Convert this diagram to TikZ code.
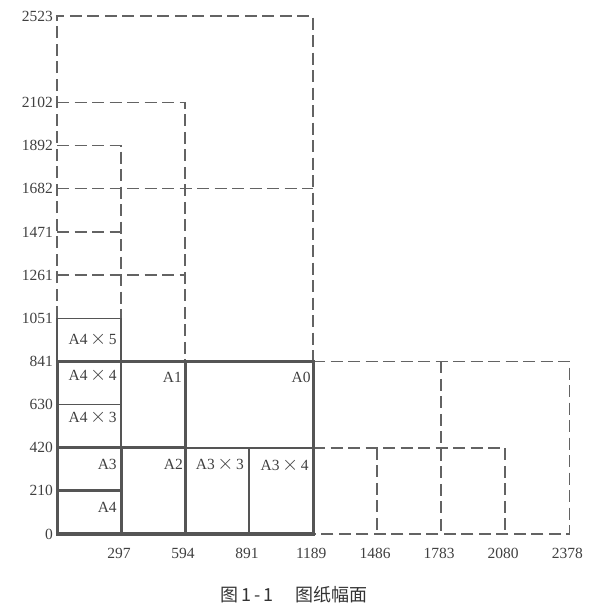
\documentclass[tikz,border=0pt]{standalone}
\usepackage{fontspec}
\setmainfont{Liberation Serif}
\newfontfamily\cjk{Noto Sans CJK SC}
\usepackage{tikz}

\definecolor{linegray}{HTML}{555555}
\definecolor{dashgray}{HTML}{636363}
\definecolor{textgray}{HTML}{404040}

\newcommand{\by}{\,{\fontsize{21pt}{21pt}\selectfont$\times$}\,}

\begin{document}
\begin{tikzpicture}[x=0.2155pt, y=0.2053pt,
  heavy/.style={line width=3pt, draw=linegray},
  light/.style={line width=1.2pt, draw=linegray},
  broken/.style={line width=1.5pt, draw=dashgray, dash pattern=on 12pt off 5.5pt},
  lbl/.style={inner sep=0pt, text=textgray, font=\fontsize{15.5pt}{17pt}\selectfont},
  ylab/.style={lbl, anchor=east, xshift=-4pt},
  xlab/.style={lbl, yshift=-19pt, xshift=-2pt},
  sheet/.style={lbl}]
\useasboundingbox (-57pt,-73pt) rectangle (543pt,534pt);

% dashed extensions
\draw[broken] (0,1051) -- (0,2523) -- (1189,2523) -- (1189,841);
\draw[broken] (0,2102) -- (594,2102) -- (594,841);
\draw[broken] (0,1892) -- (297,1892) -- (297,1051);
\draw[broken] (0,1682) -- (1189,1682);
\draw[broken] (0,1471) -- (297,1471);
\draw[broken] (0,1261) -- (594,1261);
\draw[broken] (1189,841) -- (2378,841) -- (2378,0) -- (1189,0);
\draw[broken] (1189,420) -- (2080,420) -- (2080,0);
\draw[broken] (1486,420) -- (1486,0);
\draw[broken] (1783,841) -- (1783,0);

% thin sheet borders
\draw[light] (0,841) -- (0,1051) -- (297,1051) -- (297,420);
\draw[light] (0,630) -- (297,630);
\draw[light,line width=1.8pt] (594,420) -- (1189,420);
\draw[light] (891,420) -- (891,0);

% A0 ... A4
\draw[heavy] (0,0) rectangle (1189,841);
\draw[heavy] (0,420) -- (594,420);
\draw[heavy] (594,0) -- (594,841);
\draw[heavy] (297,0) -- (297,420);
\draw[heavy] (0,210) -- (297,210);

\node[sheet] (a4x5) at (165,946) {A4\by5};
\node[sheet] (a4x4) at (165,774) {A4\by4};
\node[sheet] (a4x3) at (165,570) {A4\by3};
\node[sheet,anchor=east] (a1) at (580,765) {A1};
\node[sheet,anchor=east] (a0) at (1178,765) {A0};
\node[sheet,anchor=east] (a3) at (278,341) {A3};
\node[sheet,anchor=east] (a2) at (585,341) {A2};
\node[sheet] (a3x3) at (756,341) {A3\by3};
\node[sheet] (a3x4) at (1056,336) {A3\by4};
\node[sheet,anchor=east] (a4) at (278,131) {A4};

\node[ylab] (y2523) at (0,2523) {2523};
\node[ylab] (y2102) at (0,2102) {2102};
\node[ylab] (y1892) at (0,1892) {1892};
\node[ylab] (y1682) at (0,1682) {1682};
\node[ylab] (y1471) at (0,1471) {1471};
\node[ylab] (y1261) at (0,1261) {1261};
\node[ylab] (y1051) at (0,1051) {1051};
\node[ylab] (y841) at (0,841) {841};
\node[ylab] (y630) at (0,630) {630};
\node[ylab] (y420) at (0,420) {420};
\node[ylab] (y210) at (0,210) {210};
\node[ylab] (y0) at (0,0) {0};

\node[xlab] (x297) at (297,0) {297};
\node[xlab] (x594) at (594,0) {594};
\node[xlab] (x891) at (891,0) {891};
\node[xlab] (x1189) at (1189,0) {1189};
\node[xlab] (x1486) at (1486,0) {1486};
\node[xlab] (x1783) at (1783,0) {1783};
\node[xlab] (x2080) at (2080,0) {2080};
\node[xlab] (x2378) at (2378,0) {2378};

\node[lbl,text=black!80,font=\cjk\fontsize{18pt}{20pt}\selectfont] (caption) at (1100,-297) {图\,1\,-\,1\hspace{1.2em}图纸幅面};
\end{tikzpicture}
\end{document}
